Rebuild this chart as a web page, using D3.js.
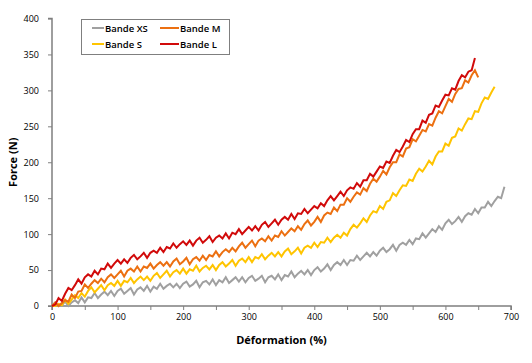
<!DOCTYPE html>
<html>
<head>
<meta charset="utf-8">
<script src="https://cdn.jsdelivr.net/npm/d3@7"></script>
<style>
  html, body { margin: 0; padding: 0; background: #fff; }
  svg { display: block; font-family: "Open Sans", "DejaVu Sans", sans-serif; }
</style>
</head>
<body>
<svg id="chart" width="532" height="363"></svg>
<script>
// ---------------- data ----------------
const deformation = [0,5,10,15,20,25,30,35,40,45,50,55,60,65,70,75,80,85,90,95,
  100,105,110,115,120,125,130,135,140,145,150,155,160,165,170,175,180,185,190,195,
  200,205,210,215,220,225,230,235,240,245,250,255,260,265,270,275,280,285,290,295,
  300,305,310,315,320,325,330,335,340,345,350,355,360,365,370,375,380,385,390,395,
  400,405,410,415,420,425,430,435,440,445,450,455,460,465,470,475,480,485,490,495,
  500,505,510,515,520,525,530,535,540,545,550,555,560,565,570,575,580,585,590,595,
  600,605,610,615,620,625,630,635,640,645,650,655,660,665,670,675,680,685,690];

const forceXS = [0,5,0,1,6,0,5,8,4,12, 5,12,11,18,11,16,20,15,21,14,
  21,24,17,21,25,16,23,26,21,28, 20,27,24,31,24,28,31,26,31,25,
  31,34,27,30,35,26,33,35,30,37, 29,36,33,40,32,36,40,34,40,33,
  39,42,35,38,42,33,40,42,37,44, 36,43,41,48,40,45,49,44,50,43,
  50,54,48,52,58,50,57,61,57,64, 57,64,63,70,64,69,74,69,75,70,
  77,81,75,79,85,77,85,88,85,92, 86,94,93,101,95,101,107,103,111,106,
  115,120,114,118,124,117,125,129,127,135, 129,137,137,145,139,146,152,150,166];

const forceS = [0,0,3,1,9,3,9,15,11,18, 13,21,26,19,24,29,22,29,32,28,
  35,28,35,33,39,32,37,41,36,41, 35,42,46,39,44,49,41,47,50,45,
  52,45,51,49,56,48,53,56,51,57, 50,57,61,55,59,64,56,63,66,61,
  68,61,68,66,72,65,70,74,69,75, 69,76,80,72,76,81,73,81,84,81,
  88,82,89,88,95,89,95,99,95,102, 98,107,113,109,115,122,117,126,132,130,
  139,135,145,147,157,153,161,168,167,176, 174,184,191,187,194,202,197,208,215,215,
  226,223,234,236,247,244,253,261,260,271, 270,282,290,288,297,305];

const forceM = [0,5,0,4,8,6,16,11,20,21, 30,25,31,36,32,38,33,40,44,39,
  44,49,41,49,52,48,55,48,55,53, 59,52,57,61,56,61,55,62,66,58,
  62,67,58,65,68,63,70,64,71,69, 76,69,75,79,75,81,76,83,88,81,
  86,91,83,91,94,90,97,91,98,96, 104,98,103,108,104,111,106,114,119,112,
  117,124,117,126,130,128,137,132,141,141, 150,145,152,158,155,164,160,170,177,173,
  180,188,183,193,200,200,211,208,219,221, 232,229,237,245,243,253,251,262,271,268,
  278,288,284,295,302,303,314,311,321,328, 318];

const forceL = [0,2,11,7,17,25,22,29,37,31, 40,44,41,49,44,52,51,59,53,59,
  64,59,65,60,67,71,65,69,74,67, 74,77,74,81,75,82,80,87,81,86,
  90,85,91,84,91,95,88,92,97,89, 95,98,94,101,94,102,100,107,100,105,
  110,105,111,105,113,117,110,115,120,113, 120,124,120,128,121,129,128,135,129,134,
  139,136,143,139,147,153,147,153,159,153, 161,165,163,171,166,175,175,184,180,187,
  194,192,201,199,209,217,214,222,231,228, 239,246,246,258,255,266,268,279,277,286,
  294,293,303,301,313,321,318,326,328,345];

const seriesNames = ["Bande XS", "Bande S", "Bande M", "Bande L"];
const seriesColors = ["#A0A0A0", "#FFC400", "#EC7011", "#D10A0A"];
const seriesValues = [forceXS, forceS, forceM, forceL];

const xTicks = [0,50,100,150,200,250,300,350,400,450,500,550,600,650,700];
const xTickLabels = ["0","","100","","200","","300","","400","","500","","600","","700"];
const yTicks = [0,50,100,150,200,250,300,350,400];

const xTitle = "Déformation (%)";
const yTitle = "Force (N)";

// ---------------- layout ----------------
const svg = d3.select("#chart");
const mLeft = 52, mRight = 511, mTop = 18.5, mBottom = 306;
const axisColor = "#7F7F7F";

const x = d3.scaleLinear().domain([0, 700]).range([mLeft, mRight]);
const y = d3.scaleLinear().domain([0, 400]).range([mBottom, mTop]);

// axes
const xAxis = svg.append("g").attr("transform", `translate(0,${mBottom})`)
  .call(d3.axisBottom(x).tickValues(xTicks).tickSize(4).tickPadding(4)
    .tickFormat((d, i) => xTickLabels[i]));
const yAxis = svg.append("g").attr("transform", `translate(${mLeft},0)`)
  .call(d3.axisLeft(y).tickValues(yTicks).tickSize(4).tickPadding(9));

[xAxis, yAxis].forEach(g => {
  g.select(".domain").attr("stroke", axisColor).attr("stroke-width", 1.5);
  g.selectAll(".tick line").attr("stroke", axisColor).attr("stroke-width", 1);
  g.selectAll(".tick text").attr("fill", "#000").style("font-size", "9px")
    .style("font-family", "'Open Sans', sans-serif");
});
yAxis.select(".domain").attr("d", `M-4,${mBottom}H0V${mTop}H-4`);
xAxis.select(".domain").attr("d", `M${mLeft},4V0H${mRight}V4`);

// lines
const line = d3.line()
  .x((d, i) => x(deformation[i]))
  .y(d => y(d));

seriesValues.forEach((vals, k) => {
  svg.append("path")
    .datum(vals)
    .attr("fill", "none")
    .attr("stroke", seriesColors[k])
    .attr("stroke-width", 2)
    .attr("stroke-linejoin", "miter")
    .attr("d", line);
});

// titles
svg.append("text")
  .attr("x", (mLeft + mRight) / 2).attr("y", 344)
  .attr("text-anchor", "middle")
  .style("font-size", "11px").style("font-weight", "bold")
  .text(xTitle);

svg.append("text")
  .attr("transform", `translate(17,${(mTop + mBottom) / 2}) rotate(-90)`)
  .attr("text-anchor", "middle")
  .style("font-size", "11px").style("font-weight", "bold")
  .text(yTitle);

// legend
const legend = svg.append("g");
legend.append("rect")
  .attr("x", 81.5).attr("y", 19.5).attr("width", 148).attr("height", 35)
  .attr("fill", "#fff").attr("stroke", axisColor).attr("stroke-width", 1);

const legendOrder = [0, 2, 1, 3];
const legendPos = [
  {lx0: 92, lx1: 104, ty: 28},
  {lx0: 160, lx1: 179, ty: 28},
  {lx0: 92, lx1: 104, ty: 44},
  {lx0: 160, lx1: 179, ty: 44}
];
legendOrder.forEach((k, j) => {
  const p = legendPos[j];
  legend.append("line")
    .attr("x1", p.lx0).attr("x2", p.lx1).attr("y1", p.ty).attr("y2", p.ty)
    .attr("stroke", seriesColors[k]).attr("stroke-width", 2);
  legend.append("text")
    .attr("x", p.lx1 + 1).attr("y", p.ty + 3.5)
    .style("font-size", "9.5px").style("font-weight", "600")
    .text(seriesNames[k]);
});
</script>
</body>
</html>
